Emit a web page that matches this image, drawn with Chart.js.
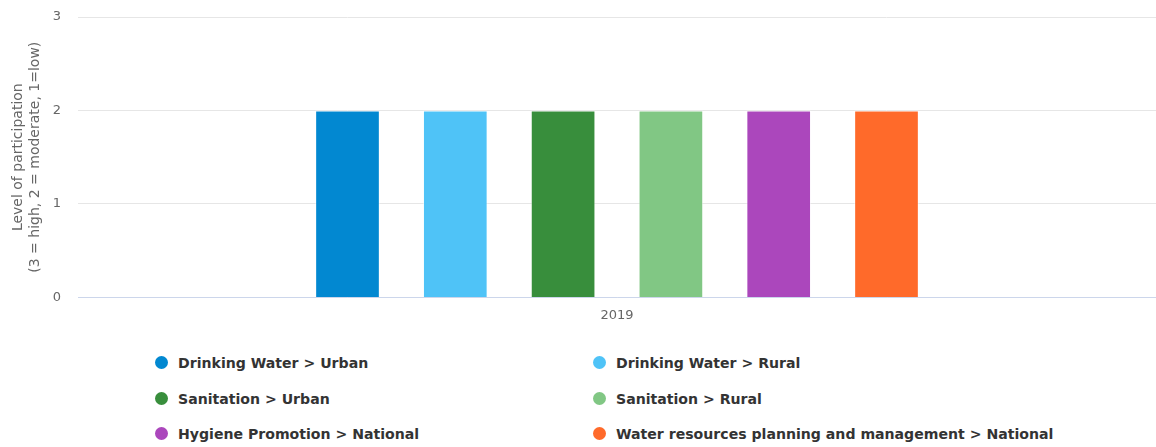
<!DOCTYPE html>
<html>
<head>
<meta charset="utf-8">
<script src="https://cdn.jsdelivr.net/npm/chart.js@4"></script>
<style>
  body { margin: 0; background: #fff; font-family: "DejaVu Sans", sans-serif; }
  #wrap { position: relative; width: 1156px; height: 447px; }
  #box { position: absolute; left: 0; top: 0; width: 1156px; height: 325px; }
  #legend { position: absolute; left: 0; top: 345px; width: 1156px; }
  .item { position: absolute; font-family: "DejaVu Sans", sans-serif; font-size: 14.1px; font-weight: bold; color: #333; white-space: nowrap; line-height: 18px; }
  .dot { display: inline-block; width: 13px; height: 13px; border-radius: 50%; vertical-align: -1px; margin-right: 10px; }
</style>
</head>
<body>
<div id="wrap">
  <div id="box"><canvas id="chart"></canvas></div>
  <div id="legend"></div>
</div>
<script>
const YEARS = ["2019"]
const SERIES = ["Drinking Water > Urban", "Drinking Water > Rural", "Sanitation > Urban",
  "Sanitation > Rural", "Hygiene Promotion > National", "Water resources planning and management > National"]
const VALUES = [[2], [2], [2], [2], [2], [2]]
const COLORS = ["#0288d1", "#4fc3f7", "#388e3c", "#81c784", "#ab47bc", "#ff6a2a"]
const Y_TICKS = [0, 1, 2, 3]

let datasets = SERIES.map(function (name, i) {
    return {
        label: name,
        data: VALUES[i],
        backgroundColor: COLORS[i],
        borderColor: "rgba(255,255,255,0.5)",
        borderWidth: 1,
        categoryPercentage: 0.6,
        barPercentage: 0.6
    }
})

var ctx = document.getElementById("chart").getContext("2d")
var myChart = new Chart(ctx, {
    type: "bar",
    data: { labels: YEARS, datasets: datasets },
    options: {
        responsive: true,
        maintainAspectRatio: false,
        animation: false,
        layout: { padding: { top: 17, right: 0, left: 10, bottom: 0 } },
        plugins: { legend: { display: false }, tooltip: { enabled: false } },
        scales: {
            x: {
                grid: { display: false },
                border: { color: "#ccd6eb", width: 1 },
                ticks: { color: "#666", font: { family: "DejaVu Sans", size: 13 }, padding: 2 }
            },
            y: {
                min: 0,
                max: 3,
                afterBuildTicks: function (scale) {
                    scale.ticks = Y_TICKS.map(function (v) { return { value: v } })
                },
                afterFit: function (scale) { scale.width = 68 },
                // transparent tick marks push the labels left without padding the top
                grid: { color: "#e6e6e6", drawTicks: true, tickLength: 17, tickColor: "rgba(0,0,0,0)" },
                border: { display: false },
                ticks: { color: "#666", font: { family: "DejaVu Sans", size: 13 }, padding: 0 },
                title: {
                    display: true,
                    text: ["Level of participation", "(3 = high, 2 = moderate, 1=low)"],
                    color: "#666",
                    font: { family: "DejaVu Sans", size: 14 },
                    padding: 0
                }
            }
        }
    }
})

// legend in two columns
let legend = document.getElementById("legend")
SERIES.forEach(function (name, i) {
    let el = document.createElement("div")
    el.className = "item"
    el.style.left = (i % 2 == 0 ? 155 : 593) + "px"
    el.style.top = (Math.floor(i / 2) * 35.5 + 9) + "px"
    el.innerHTML = '<span class="dot" style="background:' + COLORS[i] + '"></span>'
    el.appendChild(document.createTextNode(name))
    legend.appendChild(el)
})
</script>
</body>
</html>
